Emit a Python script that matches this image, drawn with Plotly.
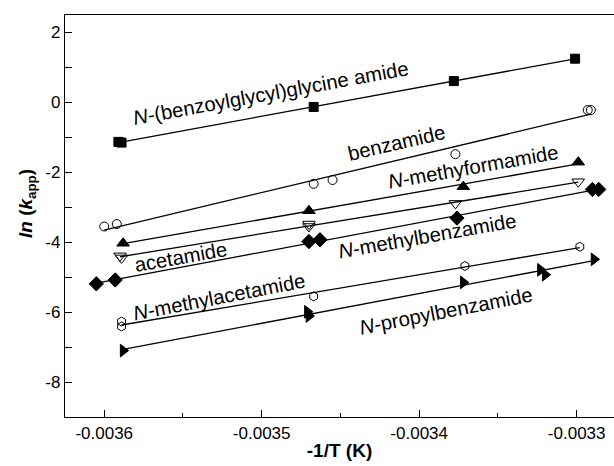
import numpy as np
import plotly.graph_objects as go

# ---- data ----
bgga_x = [-0.003591, -0.003589, -0.003467, -0.003378, -0.003301]
bgga_y = [-1.13, -1.15, -0.13, 0.61, 1.25]

benz_x = [-0.003600, -0.003592, -0.003467, -0.003455, -0.003377, -0.003293, -0.003291]
benz_y = [-3.55, -3.48, -2.33, -2.22, -1.48, -0.22, -0.22]

nmf_x = [-0.003588, -0.003470, -0.003372, -0.003299]
nmf_y = [-4.03, -3.10, -2.41, -1.71]

acet_x = [-0.003590, -0.003589, -0.003470, -0.003470, -0.003377, -0.003299]
acet_y = [-4.39, -4.45, -3.48, -3.55, -2.89, -2.27]

nmb_x = [-0.003605, -0.003593, -0.003470, -0.003463, -0.003376, -0.003290, -0.003286]
nmb_y = [-5.19, -5.08, -3.98, -3.93, -3.31, -2.49, -2.49]

nma_x = [-0.003589, -0.003589, -0.003467, -0.003371, -0.003298]
nma_y = [-6.27, -6.41, -5.55, -4.68, -4.13]

npb_x = [-0.003588, -0.003471, -0.003470, -0.003372, -0.003323, -0.003320, -0.003289]
npb_y = [-7.10, -5.99, -6.11, -5.15, -4.79, -4.93, -4.49]

series = [
    ("N-(benzoylglycyl)glycine amide", bgga_x, bgga_y, "square", 9),
    ("benzamide", benz_x, benz_y, "circle-open", 9),
    ("N-methyformamide", nmf_x, nmf_y, "triangle-up", 11),
    ("acetamide", acet_x, acet_y, "triangle-down-open", 11),
    ("N-methylbenzamide", nmb_x, nmb_y, "diamond", 11),
    ("N-methylacetamide", nma_x, nma_y, "hexagon-open", 9),
    ("N-propylbenzamide", npb_x, npb_y, "triangle-right", 11),
]

label_texts = ["<i>N</i>-(benzoylglycyl)glycine amide", "benzamide", "<i>N</i>-methyformamide",
               "acetamide", "<i>N</i>-methylbenzamide", "<i>N</i>-methylacetamide",
               "<i>N</i>-propylbenzamide"]
label_x = [-0.003494, -0.0034146, -0.003366, -0.003551, -0.003395, -0.003527, -0.003383]
label_y = [0.27, -1.17, -1.85, -4.43, -3.81, -5.58, -5.96]
label_angle = [-10.3, -13, -10, -10, -10, -11, -11]

x_ticks = [-0.0036, -0.0035, -0.0034, -0.0033]
y_ticks = [2, 0, -2, -4, -6, -8]

FONT = "Liberation Sans, Arial, sans-serif"

fig = go.Figure()
for name, xs, ys, sym, sz in series:
    xs = np.array(xs)
    ys = np.array(ys)
    m, b = np.polyfit(xs, ys, 1)
    xl = np.array([xs.min(), xs.max()])
    fig.add_trace(go.Scatter(x=xl, y=m * xl + b, mode="lines",
                             line=dict(color="black", width=1.3),
                             showlegend=False, hoverinfo="skip"))
    fig.add_trace(go.Scatter(x=xs, y=ys, mode="markers", name=name,
                             marker=dict(symbol=sym, size=sz, color="black",
                                         line=dict(color="black", width=1)),
                             showlegend=False))

for t, lx, ly, ang in zip(label_texts, label_x, label_y, label_angle):
    fig.add_annotation(x=lx, y=ly, text=t, showarrow=False, textangle=ang,
                       font=dict(family=FONT, size=20.3, color="black"))

# y-axis title as a rotated annotation so that it sits where the reference has it
fig.add_annotation(xref="paper", yref="paper", x=0, y=0.5, xshift=-38, yshift=12,
                   xanchor="center", yanchor="middle",
                   text="<b><i>ln</i> (<i>k</i><sub>app</sub>)</b>", textangle=-90,
                   showarrow=False, font=dict(family=FONT, size=19, color="black"))

fig.update_layout(
    width=614, height=466,
    margin=dict(l=65, r=0, t=15, b=49, autoexpand=False),
    plot_bgcolor="white", paper_bgcolor="white",
    font=dict(family=FONT, size=17, color="black"),
    showlegend=False,
)
fig.update_xaxes(
    range=[-0.0036249, -0.0032763], automargin=False,
    tickvals=x_ticks, ticktext=[f"{v:.4f}" for v in x_ticks],
    ticks="inside", ticklen=7, tickwidth=1.2, tickcolor="black",
    minor=dict(ticks="inside", ticklen=4, dtick=0.00005, tick0=-0.0036, tickcolor="black", tickwidth=1.2),
    showline=True, linecolor="black", linewidth=1.3, mirror=True,
    showgrid=False, zeroline=False,
    title=dict(text="<b>-1/T (K)</b>", font=dict(size=19, family=FONT), standoff=2),
    tickfont=dict(size=17),
)
fig.update_yaxes(
    range=[-9, 2.5], automargin=False,
    tickvals=y_ticks, ticktext=[str(v) for v in y_ticks],
    ticks="inside", ticklen=7, tickwidth=1.2, tickcolor="black",
    minor=dict(ticks="inside", ticklen=7, dtick=1, tick0=0, tickcolor="black", tickwidth=1.2),
    showline=True, linecolor="black", linewidth=1.3, mirror=False,
    showgrid=False, zeroline=False,
    tickfont=dict(size=17),
)

fig.write_html("out.html", config={"displayModeBar": False})

# remove the default page margin so the 614x466 figure fills the window exactly
with open("out.html", "r", encoding="utf-8") as f:
    html = f.read()
html = html.replace("<head>", "<head><style>html,body{margin:0;padding:0;overflow:hidden;}</style>", 1)
with open("out.html", "w", encoding="utf-8") as f:
    f.write(html)
